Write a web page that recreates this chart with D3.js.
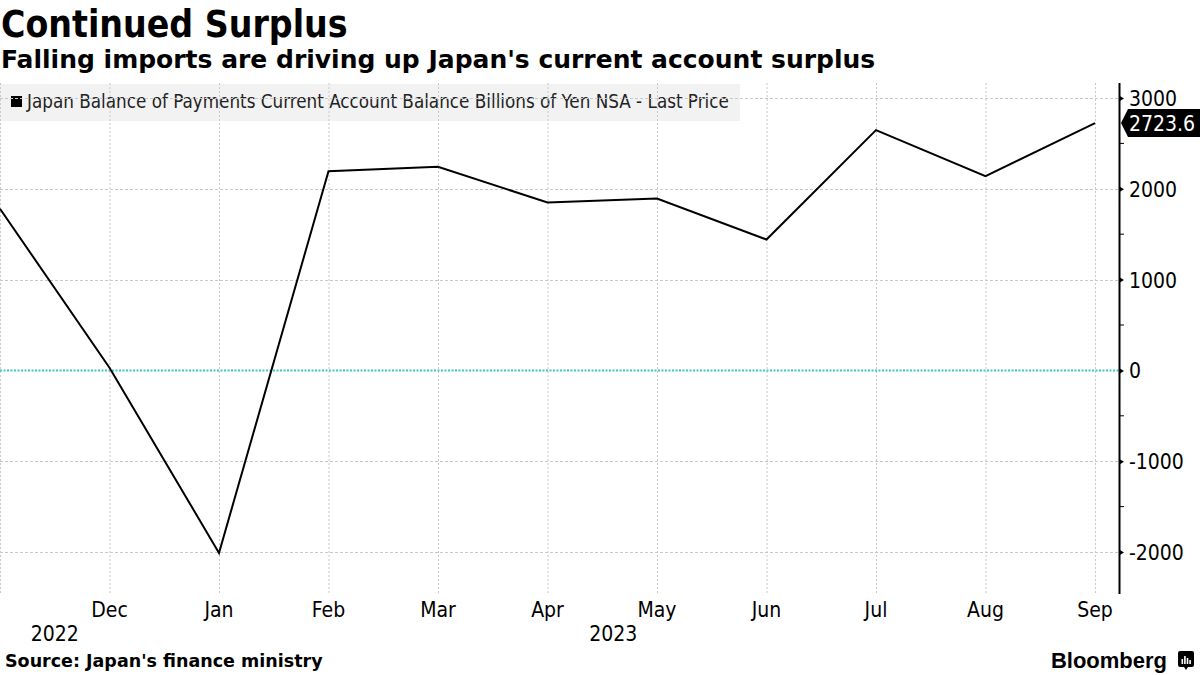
<!DOCTYPE html>
<html>
<head>
<meta charset="utf-8">
<script src="https://cdn.jsdelivr.net/npm/d3@7"></script>
<style>
  body { margin: 0; background: #fff; }
  svg { display: block; font-family: "DejaVu Sans Condensed", "DejaVu Sans", sans-serif; }
  .bold { font-weight: bold; }
  .wide { font-family: "DejaVu Sans", sans-serif; }
</style>
</head>
<body>
<svg id="chart" width="1200" height="675"></svg>
<script>
var months = ["Nov", "Dec", "Jan", "Feb", "Mar", "Apr", "May", "Jun", "Jul", "Aug", "Sep"];
var balance = [1780, 30, -2010, 2194, 2242, 1849, 1893, 1441, 2646, 2139, 2723.6];
var yTicks = [-2000, -1000, 0, 1000, 2000, 3000];
var yMinorTicks = [-1500, -500, 500, 1500, 2500];
// year label sits at a fractional month index
var years = [{ label: "2022", at: 0.5 }, { label: "2023", at: 5.6 }];

var title = "Continued Surplus";
var subtitle = "Falling imports are driving up Japan's current account surplus";
var legendText = "Japan Balance of Payments Current Account Balance Billions of Yen NSA - Last Price";
var source = "Source: Japan's finance ministry";

var width = 1200, height = 675;
var plotLeft = 0, plotRight = 1119, plotTop = 83, plotBottom = 594;

var svg = d3.select("#chart");

var x = d3.scalePoint().domain(months).range([0, 1095]);
var xi = d3.scaleLinear().domain([0, months.length - 1]).range([0, 1095]);
var y = d3.scaleLinear().domain([-2000, 3000]).range([552, 98]);

// titles
svg.append("text")
  .attr("class", "bold")
  .attr("x", 1).attr("y", 37)
  .style("font-size", "37px")
  .text(title);

svg.append("text")
  .attr("class", "bold wide")
  .attr("x", 1).attr("y", 68)
  .style("font-size", "25px")
  .text(subtitle);

// legend box
svg.append("rect")
  .attr("x", 0).attr("y", 84)
  .attr("width", 740).attr("height", 37)
  .attr("fill", "#f2f2f2");

svg.append("rect")
  .attr("x", 11).attr("y", 96)
  .attr("width", 11).attr("height", 11)
  .attr("fill", "#000");

svg.append("text")
  .attr("x", 27).attr("y", 108)
  .style("font-size", "18.7px")
  .attr("fill", "#222")
  .text(legendText);

// grid
var grid = svg.append("g").attr("class", "grid");

grid.selectAll(".vgrid")
  .data(months)
  .enter()
  .append("line")
  .attr("class", "vgrid")
  .attr("x1", function(d) { return x(d) + 0.5; })
  .attr("x2", function(d) { return x(d) + 0.5; })
  .attr("y1", plotTop)
  .attr("y2", plotBottom)
  .attr("stroke", "#c8c8c8")
  .attr("stroke-width", 1)
  .attr("stroke-dasharray", "2,2");

grid.selectAll(".hgrid")
  .data(yTicks.filter(function(d) { return d != 0; }))
  .enter()
  .append("line")
  .attr("class", "hgrid")
  .attr("x1", plotLeft)
  .attr("x2", plotRight)
  .attr("y1", function(d) { return Math.round(y(d)) + 0.5; })
  .attr("y2", function(d) { return Math.round(y(d)) + 0.5; })
  .attr("stroke", "#c8c8c8")
  .attr("stroke-width", 1)
  .attr("stroke-dasharray", "3,2");

// zero line
svg.append("line")
  .attr("x1", plotLeft)
  .attr("x2", plotRight)
  .attr("y1", y(0))
  .attr("y2", y(0))
  .attr("stroke", "#3cc8bd")
  .attr("stroke-width", 2)
  .attr("stroke-dasharray", "2,1.5");

// the series
svg.append("path")
  .datum(balance)
  .attr("fill", "none")
  .attr("stroke", "#000")
  .attr("stroke-width", 2)
  .attr("stroke-linejoin", "miter")
  .attr("d", d3.line()
    .x(function(d, i) { return x(months[i]); })
    .y(function(d) { return y(d); }));

// right axis
var axis = svg.append("g")
  .attr("class", "y-axis")
  .attr("transform", "translate(" + plotRight + " 0)")
  .call(d3.axisRight(y).tickValues(yTicks).tickSize(0).tickPadding(10)
    .tickFormat(function(d) { return String(d); }));

axis.select(".domain").remove();
axis.selectAll("text")
  .style("font-size", "21px")
  .style("font-family", "\"DejaVu Sans Condensed\", \"DejaVu Sans\", sans-serif")
  .attr("fill", "#000")
  .attr("dy", "0.36em");

axis.selectAll(".tick")
  .append("path")
  .attr("d", "M0,-3L5,0L0,3Z")
  .attr("fill", "#000");

svg.append("line")
  .attr("x1", plotRight + 0.5).attr("x2", plotRight + 0.5)
  .attr("y1", plotTop).attr("y2", plotBottom)
  .attr("stroke", "#000")
  .attr("stroke-width", 2);

svg.selectAll(".minor")
  .data(yMinorTicks)
  .enter()
  .append("line")
  .attr("class", "minor")
  .attr("x1", plotRight)
  .attr("x2", plotRight + 5)
  .attr("y1", function(d) { return y(d); })
  .attr("y2", function(d) { return y(d); })
  .attr("stroke", "#000")
  .attr("stroke-width", 1);

// last value tag
var last = balance[balance.length - 1];
var ly = y(last);
svg.append("path")
  .attr("d", "M" + (plotRight + 2) + "," + ly +
             "L" + (plotRight + 9) + "," + (ly - 14) +
             "L1200," + (ly - 14) +
             "L1200," + (ly + 14) +
             "L" + (plotRight + 9) + "," + (ly + 14) + "Z")
  .attr("fill", "#000");

svg.append("text")
  .attr("x", plotRight + 10)
  .attr("y", ly)
  .attr("dy", "0.36em")
  .style("font-size", "21px")
  .attr("fill", "#fff")
  .text(d3.format(".1f")(last));

// x axis labels
svg.selectAll(".month")
  .data(months.slice(1))
  .enter()
  .append("text")
  .attr("class", "month")
  .attr("x", function(d) { return x(d); })
  .attr("y", 617)
  .attr("text-anchor", "middle")
  .style("font-size", "21px")
  .text(function(d) { return d; });

svg.selectAll(".year")
  .data(years)
  .enter()
  .append("text")
  .attr("class", "year")
  .attr("x", function(d) { return xi(d.at); })
  .attr("y", 641)
  .attr("text-anchor", "middle")
  .style("font-size", "21px")
  .text(function(d) { return d.label; });

// footer
svg.append("text")
  .attr("class", "bold wide")
  .attr("x", 5).attr("y", 667)
  .style("font-size", "17.5px")
  .text(source);

svg.append("text")
  .attr("class", "bold")
  .attr("x", 1167).attr("y", 668)
  .attr("text-anchor", "end")
  .style("font-size", "22px")
  .style("font-family", "\"Liberation Sans\", Arial, sans-serif")
  .text("Bloomberg");

var logo = svg.append("g").attr("transform", "translate(1178 651)");
logo.append("path")
  .attr("d", "M2,0H14Q16,0 16,2V14Q16,16 14,16H10L8,19L6,16H2Q0,16 0,14V2Q0,0 2,0Z")
  .attr("fill", "#000");
logo.selectAll(".bar")
  .data([5, 8, 6, 4])
  .enter()
  .append("rect")
  .attr("x", function(d, i) { return 3.5 + i * 2.6; })
  .attr("y", function(d) { return 13 - d; })
  .attr("width", 1.6)
  .attr("height", function(d) { return d; })
  .attr("fill", "#fff");
</script>
</body>
</html>
